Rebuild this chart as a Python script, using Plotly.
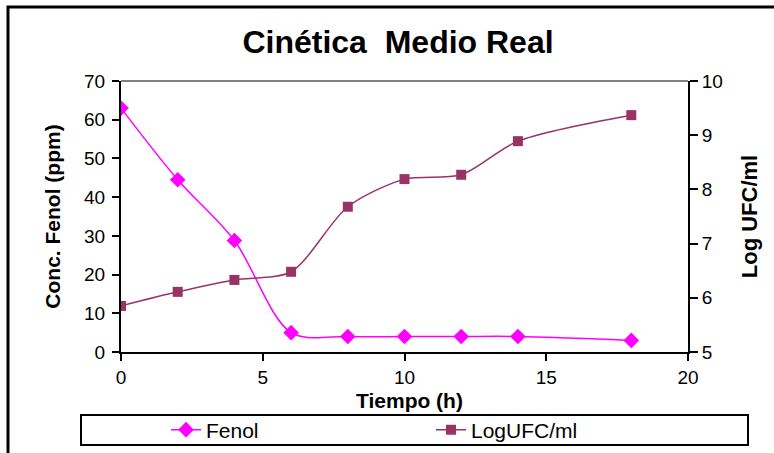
import plotly.graph_objects as go

# Sampling times (h)
tiempo = [0, 2, 4, 6, 8, 10, 12, 14, 18]
# Phenol concentration (ppm)
fenol = [63.0, 44.5, 28.8, 5.0, 4.0, 4.0, 4.0, 4.0, 3.0]
# Bacterial growth (log UFC/ml)
log_ufc = [5.85, 6.11, 6.33, 6.48, 7.68, 8.19, 8.27, 8.89, 9.37]

FONT = "Liberation Sans, Arial, sans-serif"
W, H = 774, 453
L, R, T, B = 121, 86, 81, 101
PW, PH = W - L - R, H - T - B


def px_x(x):
    return (x - L) / PW


def px_y(y):
    return (H - B - y) / PH


fig = go.Figure()
fig.add_trace(go.Scatter(
    x=tiempo, y=fenol, name="Fenol", mode="lines+markers",
    line=dict(color="#FF00FF", width=1.5, shape="spline", smoothing=0.9),
    marker=dict(symbol="diamond", size=12, color="#FF00FF"),
    yaxis="y",
))
fig.add_trace(go.Scatter(
    x=tiempo, y=log_ufc, name="LogUFC/ml", mode="lines+markers",
    line=dict(color="#993366", width=1.5, shape="spline", smoothing=0.8),
    marker=dict(symbol="square", size=10, color="#993366"),
    yaxis="y2",
))

tickfont = dict(family=FONT, size=19, color="black")
titlefont = dict(family=FONT, size=21, color="black", weight="bold")

fig.update_layout(
    width=W, height=H,
    margin=dict(l=L, r=R, t=T, b=B, pad=0, autoexpand=False),
    paper_bgcolor="white", plot_bgcolor="white",
    title=dict(text="Cinética  Medio Real", x=398 / W, xanchor="center",
               y=1 - 42 / H, yanchor="middle",
               font=dict(family=FONT, size=32, color="black", weight="bold")),
    xaxis=dict(range=[0, 20], dtick=5, showgrid=False, zeroline=False,
               showline=True, linecolor="black", linewidth=2,
               ticks="outside", ticklen=7, tickwidth=2, tickcolor="black",
               ticklabelstandoff=0, tickfont=tickfont),
    yaxis=dict(range=[0, 70], dtick=10, showgrid=False, zeroline=False,
               showline=True, linecolor="black", linewidth=2,
               ticks="outside", ticklen=7, tickwidth=2, tickcolor="black",
               ticklabelstandoff=3, tickfont=tickfont,
               title=dict(text="Conc. Fenol (ppm)", font=titlefont, standoff=18)),
    yaxis2=dict(range=[5, 10], dtick=1, overlaying="y", side="right",
                showgrid=False, zeroline=False,
                showline=True, linecolor="black", linewidth=2,
                ticks="outside", ticklen=8, tickwidth=2, tickcolor="black",
                tickfont=tickfont,
                title=dict(text="Log UFC/ml", font=dict(titlefont, size=22),
                           standoff=20)),
    legend=dict(orientation="h", xref="container", yref="container",
                x=166 / W, y=(H - 430) / H, yanchor="middle",
                xanchor="left", entrywidth=220, entrywidthmode="pixels",
                font=dict(family=FONT, size=21, color="black"),
                bgcolor="rgba(0,0,0,0)", borderwidth=0),
    showlegend=True,
)

# X axis title, set just below the tick labels
fig.add_annotation(text="Tiempo (h)", xref="paper", yref="paper",
                   x=px_x(409), y=px_y(400), xanchor="center", yanchor="middle",
                   showarrow=False, font=titlefont)

# Gray top edge of the plot area
fig.add_shape(type="line", xref="paper", yref="paper", x0=0, x1=1, y0=1, y1=1,
              line=dict(color="#808080", width=2))
# Legend frame
fig.add_shape(type="rect", xref="paper", yref="paper",
              x0=px_x(81), x1=px_x(748), y0=px_y(445), y1=px_y(415),
              line=dict(color="black", width=2), layer="below")
# Outer chart frame
fig.add_shape(type="rect", xref="paper", yref="paper",
              x0=px_x(8), x1=px_x(800), y0=px_y(480), y1=px_y(7),
              line=dict(color="black", width=3), layer="below")

fig.write_html("out.html")
